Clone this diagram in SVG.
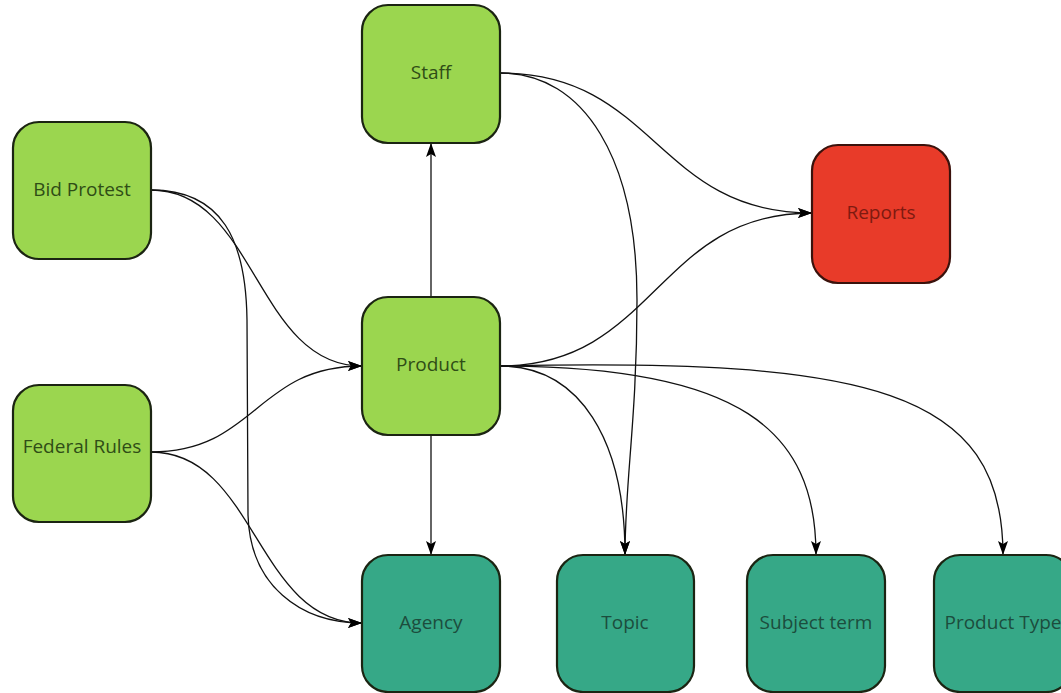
<svg xmlns="http://www.w3.org/2000/svg" width="1061" height="693" viewBox="0 0 1061 693">
<style>
.n rect{stroke:#1b2412;stroke-width:2.2}
.g rect{fill:#9bd64f}
.t rect{fill:#36a887}
.r rect{fill:#e83b29;stroke:#3a120c}
.n text{font-family:"Open Sans","Noto Sans",sans-serif;font-size:19px;text-anchor:middle;dominant-baseline:central}
.g text{fill:#2f4d16}
.t text{fill:#1c4d3d}
.r text{fill:#7e1a10}
.e path{fill:none;stroke:#111;stroke-width:1.3;marker-end:url(#a)}
</style>
<defs>
<marker id="a" viewBox="0 0 14 10" refX="14" refY="5" markerWidth="14" markerHeight="10" markerUnits="userSpaceOnUse" orient="auto">
<path d="M0,0 L14,5 L0,10 L3,5 Z" fill="#000"/>
</marker>
</defs>
<rect width="1061" height="693" fill="#fff"/>
<g class="e" id="connectors">
<path d="M151,190 C256,190 256,366 362,366"/>
<path d="M151,190 C222,190 246,240 247,320 L248,515 C250,585 300,623 362,623"/>
<path d="M151,452 C256,452 256,366 362,366"/>
<path d="M151,452 C256,452 256,623 362,623"/>
<path d="M431,297 L431,143"/>
<path d="M431,435 L431,555"/>
<path d="M500,73 C656,73 656,213 812,213"/>
<path d="M500,366 C656,366 656,213 812,213"/>
<path d="M500,73 C585,73 637,160 637,300 C637,420 625,480 625,555"/>
<path d="M500,366 C580,366 625,440 625,555"/>
<path d="M500,366 C740,366 816,430 816,555"/>
<path d="M500,366 C870,358 1003,390 1003,555"/>
</g>
<g id="staff" class="n g"><rect x="362" y="5" width="138" height="138" rx="26"/><text x="431" y="72">Staff</text></g>
<g id="bid-protest" class="n g"><rect x="13" y="122" width="138" height="137" rx="26"/><text x="82" y="189">Bid Protest</text></g>
<g id="federal-rules" class="n g"><rect x="13" y="385" width="138" height="137" rx="26"/><text x="82" y="446">Federal Rules</text></g>
<g id="product" class="n g"><rect x="362" y="297" width="138" height="138" rx="26"/><text x="431" y="364">Product</text></g>
<g id="reports" class="n r"><rect x="812" y="145" width="138" height="138" rx="26"/><text x="881" y="212">Reports</text></g>
<g id="agency" class="n t"><rect x="362" y="555" width="138" height="137" rx="26"/><text x="431" y="622">Agency</text></g>
<g id="topic" class="n t"><rect x="557" y="555" width="137" height="137" rx="26"/><text x="625" y="622">Topic</text></g>
<g id="subject-term" class="n t"><rect x="747" y="555" width="138" height="137" rx="26"/><text x="816" y="622">Subject term</text></g>
<g id="product-type" class="n t"><rect x="934" y="555" width="138" height="137" rx="26"/><text x="1003" y="622">Product Type</text></g>
</svg>
